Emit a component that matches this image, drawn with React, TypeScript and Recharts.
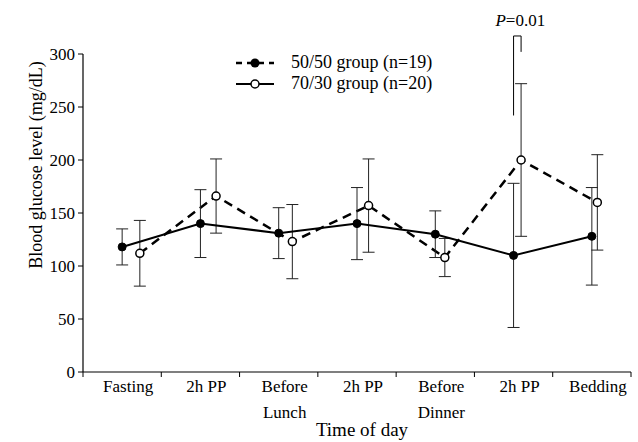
import React from "react";
import { LineChart, Line, XAxis, YAxis, ErrorBar, ReferenceLine } from "recharts";

// time points along the day, split into label lines
const TIME_POINTS = [["Fasting"], ["2h PP"], ["Before", "Lunch"], ["2h PP"], ["Before", "Dinner"], ["2h PP"], ["Bedding"]];

// mean ± SD blood glucose (mg/dL)
const GROUP_50_MEAN = [118, 140, 131, 140, 130, 110, 128];
const GROUP_50_SD = [17, 32, 24, 34, 22, 68, 46];
const GROUP_70_MEAN = [112, 166, 123, 157, 108, 200, 160];
const GROUP_70_SD = [31, 35, 35, 44, 18, 72, 45];

const Y_TICKS = [0, 50, 100, 150, 200, 250, 300];

// significance bracket over the third 2h PP point
const P_LABEL_INDEX = 5;
const P_BRACKET_TOP = 317;
const P_BRACKET_LEFT_END = 242;
const P_BRACKET_RIGHT_END = 302;

const FONT = "'Liberation Serif', 'Times New Roman', serif";
const W = 638;
const H = 442;
const LEFT = 83;
const RIGHT = 7;
const BAND = (W - LEFT - RIGHT) / TIME_POINTS.length;

// the 70/30 markers sit slightly right of each band centre
const openX = (i: number) => 0.726 + 0.974 * i;
const filledX = (i: number) => i + 0.5;

const group50 = GROUP_50_MEAN.map((v, i) => ({ x: filledX(i), y: v, err: GROUP_50_SD[i] }));
const group70 = GROUP_70_MEAN.map((v, i) => ({ x: openX(i), y: v, err: GROUP_70_SD[i] }));

const XTick = ({ x, y, payload }: any) => {
  const idx = payload.value;
  if (idx >= TIME_POINTS.length) return null;
  return (
    <text x={x + BAND / 2 + 6} y={y} textAnchor="middle" fontFamily={FONT} fontSize={17} fill="#000">
      {TIME_POINTS[idx].map((s, k) => (
        <tspan key={k} x={x + BAND / 2 + 6} dy={k === 0 ? 13 : 26}>
          {s}
        </tspan>
      ))}
    </text>
  );
};

const LegendBox = () => (
  <div
    style={{
      position: "absolute",
      left: 236,
      top: 52,
      fontFamily: FONT,
      fontSize: 18,
      color: "#000",
      lineHeight: "21px",
    }}
  >
    <div style={{ display: "flex", alignItems: "center" }}>
      <svg width={55} height={14}>
        <line x1={0} y1={7} x2={38} y2={7} stroke="#000" strokeWidth={2.5} strokeDasharray="6 5" />
        <circle cx={19} cy={7} r={4.5} fill="#000" />
      </svg>
      <span>50/50 group (n=19)</span>
    </div>
    <div style={{ display: "flex", alignItems: "center" }}>
      <svg width={55} height={14}>
        <line x1={0} y1={7} x2={38} y2={7} stroke="#000" strokeWidth={2} />
        <circle cx={19} cy={7} r={4} fill="#fff" stroke="#000" strokeWidth={1.5} />
      </svg>
      <span>70/30 group (n=20)</span>
    </div>
  </div>
);

const PLabel = ({ viewBox }: any) => {
  const cx = viewBox.x + viewBox.width / 2 + 3;
  return (
    <text x={cx} y={viewBox.y - 10} textAnchor="middle" fontFamily={FONT} fontSize={17} fill="#000">
      <tspan fontStyle="italic">P</tspan>=0.01
    </text>
  );
};

export default function App() {
  const tickStyle = { fill: "#000", fontSize: 17, fontFamily: FONT };
  return (
    <div style={{ position: "absolute", left: 0, top: 0, width: W, height: H, background: "#fff" }}>
      <LineChart width={W} height={H} margin={{ top: 54, right: RIGHT, bottom: 0, left: 0 }}>
        <XAxis
          type="number"
          dataKey="x"
          domain={[0, TIME_POINTS.length]}
          ticks={[0, 1, 2, 3, 4, 5, 6, 7]}
          height={70}
          tick={<XTick />}
          tickSize={5}
          axisLine={{ stroke: "#000", strokeWidth: 1.2 }}
          tickLine={{ stroke: "#000" }}
          label={{
            content: () => (
              <text x={362} y={436} textAnchor="middle" fontFamily={FONT} fontSize={19} fill="#000">
                Time of day
              </text>
            ),
          }}
        />
        <YAxis
          type="number"
          domain={[0, 300]}
          ticks={Y_TICKS}
          width={LEFT}
          tick={tickStyle}
          tickSize={5}
          tickMargin={3}
          axisLine={{ stroke: "#000", strokeWidth: 1.2 }}
          tickLine={{ stroke: "#000" }}
          label={{
            content: () => (
              <text
                transform="translate(42,165) rotate(-90)"
                textAnchor="middle"
                fontFamily={FONT}
                fontSize={18}
                fill="#000"
              >
                Blood glucose level  (mg/dL)
              </text>
            ),
          }}
        />
        <Line
          data={group70}
          dataKey="y"
          stroke="#000"
          strokeWidth={2.5}
          strokeDasharray="9 6"
          dot={{ r: 4, fill: "#fff", stroke: "#000", strokeWidth: 1.5, strokeDasharray: "" }}
          isAnimationActive={false}
        >
          <ErrorBar dataKey="err" direction="y" width={6} stroke="#222" strokeWidth={1} />
        </Line>
        <Line
          data={group50}
          dataKey="y"
          stroke="#000"
          strokeWidth={2}
          dot={{ r: 4, fill: "#000", stroke: "#000", strokeWidth: 1 }}
          isAnimationActive={false}
        >
          <ErrorBar dataKey="err" direction="y" width={6} stroke="#222" strokeWidth={1} />
        </Line>
        <ReferenceLine
          segment={[
            { x: filledX(P_LABEL_INDEX), y: P_BRACKET_LEFT_END },
            { x: filledX(P_LABEL_INDEX), y: P_BRACKET_TOP },
          ]}
          stroke="#000"
          ifOverflow="visible"
        />
        <ReferenceLine
          segment={[
            { x: filledX(P_LABEL_INDEX), y: P_BRACKET_TOP },
            { x: openX(P_LABEL_INDEX), y: P_BRACKET_TOP },
          ]}
          stroke="#000"
          ifOverflow="visible"
          label={<PLabel />}
        />
        <ReferenceLine
          segment={[
            { x: openX(P_LABEL_INDEX), y: P_BRACKET_TOP },
            { x: openX(P_LABEL_INDEX), y: P_BRACKET_RIGHT_END },
          ]}
          stroke="#000"
          ifOverflow="visible"
        />
      </LineChart>
      <LegendBox />
    </div>
  );
}
